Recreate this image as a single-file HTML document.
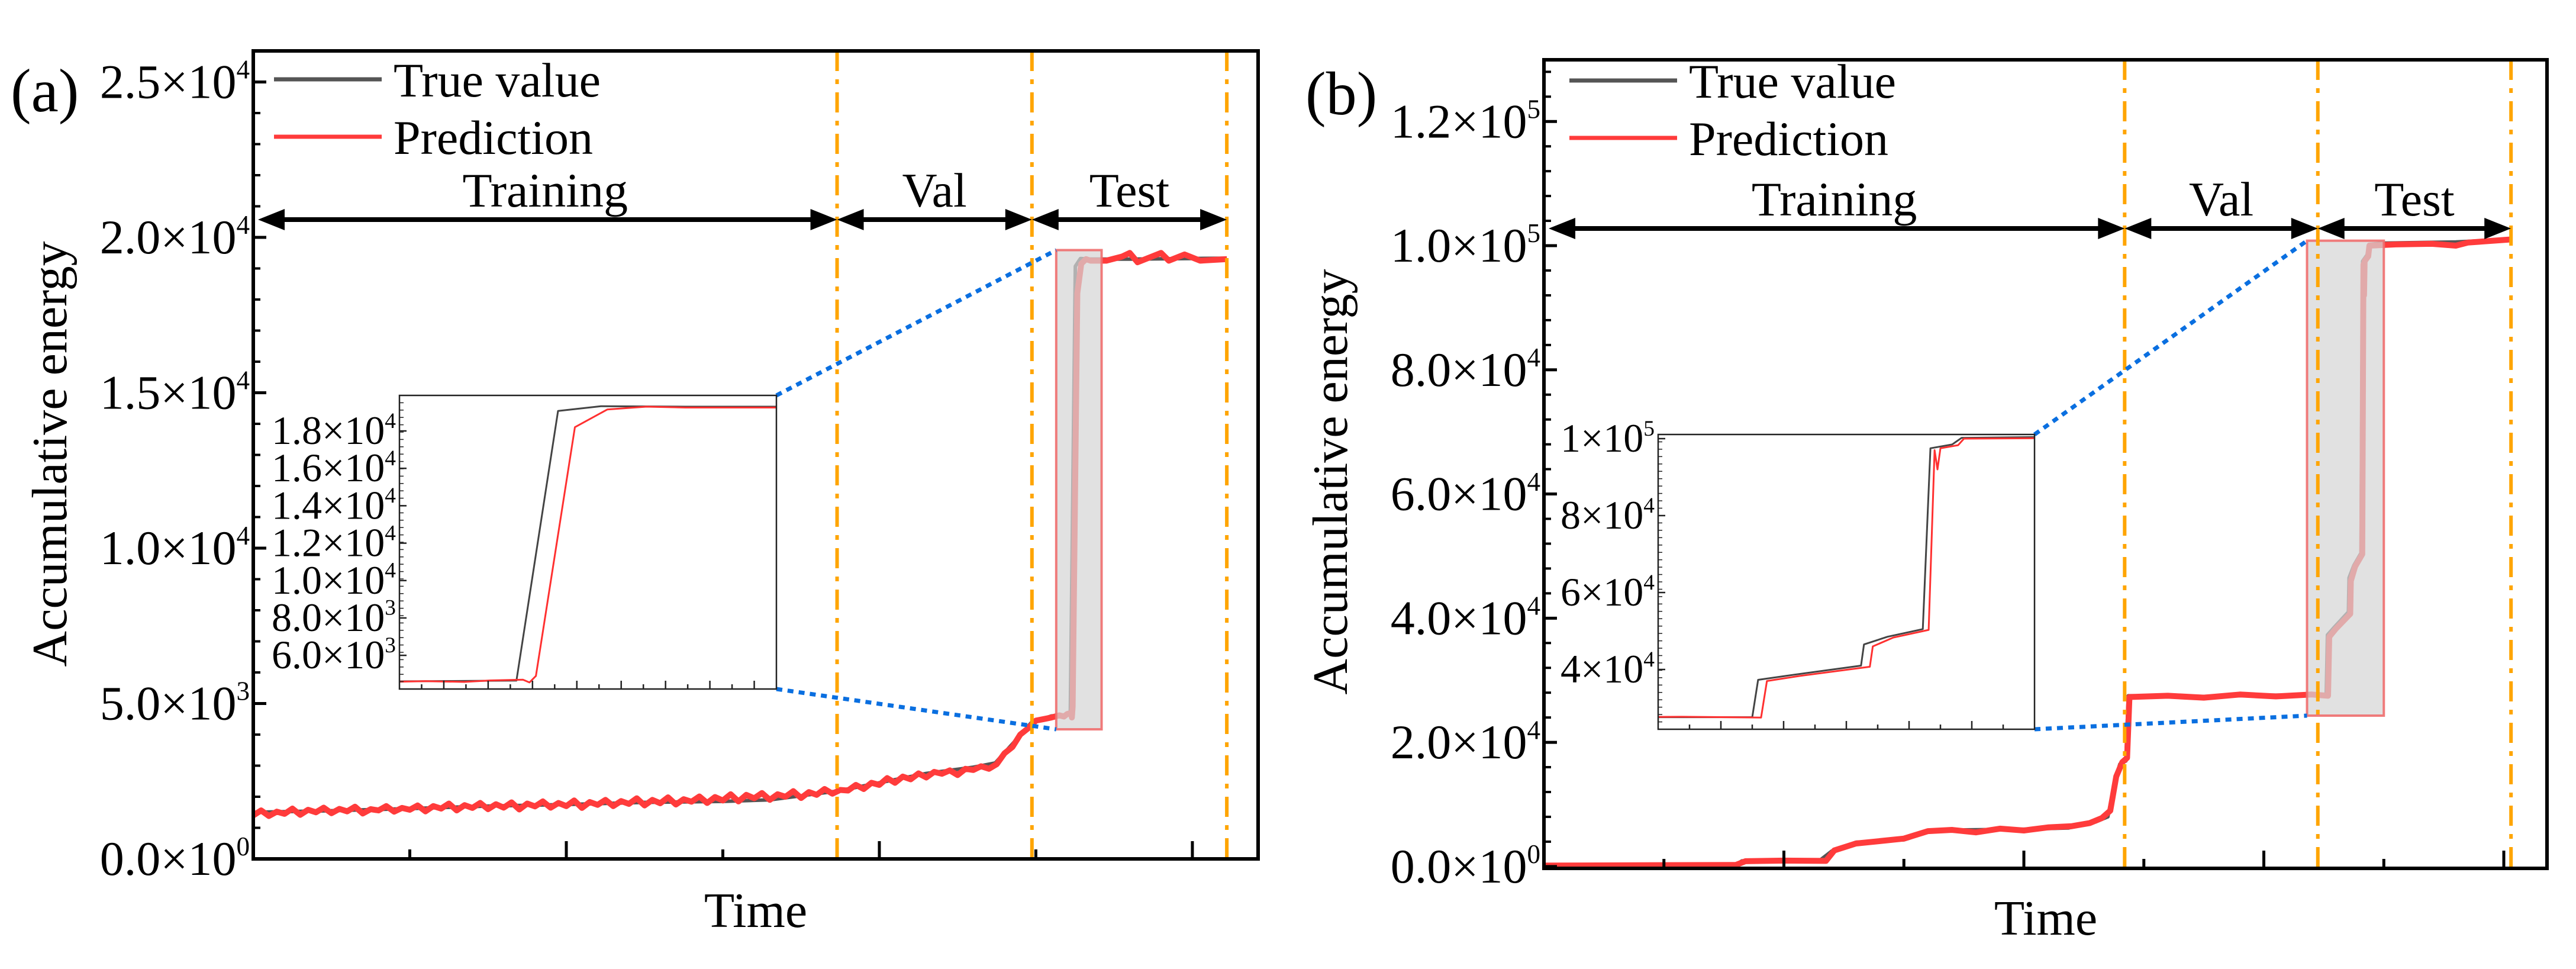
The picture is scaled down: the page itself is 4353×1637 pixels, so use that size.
<!DOCTYPE html>
<html><head><meta charset="utf-8"><style>
html,body{margin:0;padding:0;background:#fff}
svg{display:block}
svg text{font-family:"Liberation Serif","Times New Roman","DejaVu Serif",serif;fill:#000}
</style></head><body>
<svg id="chart" width="4353" height="1637" viewBox="0 0 4353 1637" xmlns="http://www.w3.org/2000/svg" font-family="Liberation Serif, serif">
<defs>
<clipPath id="clipA"><rect x="428" y="86" width="1698" height="1365"/></clipPath>
<clipPath id="clipB"><rect x="2609" y="101" width="1695" height="1366"/></clipPath>
<clipPath id="clipIA"><rect x="675" y="668" width="637" height="496"/></clipPath>
<clipPath id="clipIB"><rect x="2802" y="734" width="636" height="498"/></clipPath>
</defs>
</svg>
<script>
// ---------- Panel (a) data ----------
const trueAX=[0,0.5,1,1.5,2,2.5,3,3.3,3.73,4.0,4.3,4.6,4.74,4.85,4.97,5.1,5.22,5.252,5.285,5.35,5.6,6.0,6.22];
const trueAY=[1500,1550,1620,1700,1750,1820,1850,1900,2180,2450,2750,2950,3085,3700,4380,4600,4650,19070,19320,19300,19300,19320,19330];
const predAX=[0,0.05,0.1,0.15,0.2,0.25,0.3,0.35,0.4,0.45,0.5,0.55,0.6,0.65,0.7,0.75,0.8,0.85,0.9,0.95,1.0,1.05,1.1,1.15,1.2,1.25,1.3,1.35,1.4,1.45,1.5,1.55,1.6,1.65,1.7,1.75,1.8,1.85,1.9,1.95,2.0,2.05,2.1,2.15,2.2,2.25,2.3,2.35,2.4,2.45,2.5,2.55,2.6,2.65,2.7,2.75,2.8,2.85,2.9,2.95,3.0,3.05,3.1,3.15,3.2,3.25,3.3,3.35,3.4,3.45,3.5,3.55,3.6,3.65,3.7,3.75,3.8,3.85,3.9,3.95,4.0,4.05,4.1,4.15,4.2,4.25,4.3,4.35,4.4,4.45,4.5,4.55,4.6,4.65,4.7,4.75,4.8,4.85,4.9,4.95,5.0,5.05,5.1,5.15,5.18,5.2,5.225,5.23,5.235,5.265,5.29,5.32,5.35,5.45,5.55,5.6,5.65,5.75,5.8,5.85,5.95,6.05,6.22];
const predAY=[1400,1560,1380,1520,1450,1620,1420,1580,1500,1650,1470,1610,1530,1680,1460,1600,1560,1700,1520,1640,1580,1720,1530,1700,1620,1780,1560,1730,1640,1800,1600,1760,1650,1820,1590,1780,1690,1850,1650,1800,1700,1880,1640,1830,1740,1900,1700,1860,1770,1950,1720,1900,1790,1980,1750,1920,1840,2010,1800,1990,1880,2080,1850,2060,1950,2120,1900,2080,2000,2180,1960,2150,2060,2250,2100,2220,2200,2380,2250,2450,2380,2600,2450,2650,2560,2750,2620,2800,2740,2850,2700,2900,2860,2980,2900,3050,3400,3600,4000,4200,4450,4500,4550,4620,4580,4660,4700,4550,4900,18200,19150,19300,19250,19250,19380,19500,19200,19400,19500,19250,19450,19250,19300];
const ticksAY=[0,5000,10000,15000,20000,25000];
const tickLabA=[["0.0","0"],["5.0","3"],["1.0","4"],["1.5","4"],["2.0","4"],["2.5","4"]];
const insetTicksAY=[6000,8000,10000,12000,14000,16000,18000];
const insetLabA=[["6.0","3"],["8.0","3"],["1.0","4"],["1.2","4"],["1.4","4"],["1.6","4"],["1.8","4"]];
const splitsA=[3.73,4.975,6.22];
// ---------- Panel (b) data ----------
const trueBX=[0,1.6,1.65,2.3,2.4,2.6,3.0,3.05,3.2,3.5,4.0,4.37,4.6,4.7,4.76,4.8,4.85,4.87,5.5,6.0,6.52,6.53,6.585,6.705,6.71,6.75,6.81,6.823,6.86,6.876,7.0,7.6,8.06];
const trueBY=[200,300,900,1000,2500,3900,4300,4600,5800,5900,6000,6200,7200,8000,14000,16500,17000,27500,27400,27600,27600,37300,38500,41000,46500,48500,50500,97500,98500,100200,100400,100600,101000];
const predBX=[0,1.6,1.68,2.0,2.35,2.42,2.6,2.8,3.0,3.2,3.4,3.6,3.8,4.0,4.2,4.4,4.55,4.65,4.72,4.77,4.82,4.86,4.88,5.2,5.5,5.8,6.1,6.4,6.535,6.545,6.6,6.72,6.725,6.76,6.82,6.83,6.835,6.84,6.87,6.88,7.1,7.4,7.6,7.7,8.06];
const predBY=[150,250,850,950,900,2600,3700,4100,4500,5700,5900,5500,6100,5800,6300,6500,7000,7800,9000,14500,16800,17500,27300,27500,27200,27700,27400,27700,27500,37000,38300,40700,46000,48300,50300,97000,92000,97500,98300,100000,100200,100300,100000,100500,101000];
const ticksBY=[0,20000,40000,60000,80000,100000,120000];
const tickLabB=[["0.0","0"],["2.0","4"],["4.0","4"],["6.0","4"],["8.0","4"],["1.0","5"],["1.2","5"]];
const insetTicksBY=[40000,60000,80000,100000];
const insetLabB=[["4","4"],["6","4"],["8","4"],["1","5"]];
const splitsB=[4.84,6.45,8.06];

const NS="http://www.w3.org/2000/svg";
const FONT='"Liberation Serif","Times New Roman",serif';
const svg=document.getElementById('chart');
function mk(tag,attrs,parent){const e=document.createElementNS(NS,tag);for(const k in attrs)e.setAttribute(k,attrs[k]);if(tag==='text'){e.setAttribute('font-family','Liberation Serif, serif');e.style.fontFamily=FONT;}(parent||svg).appendChild(e);return e;}
function lin(d0,d1,r0,r1){return v=>r0+(v-d0)/(d1-d0)*(r1-r0);}
function sciLabel(g,x,y,mant,exp,fs){
  const t=mk('text',{x:x,y:y,'font-size':fs,'text-anchor':'end'},g);
  
  
  const a=document.createElementNS(NS,'tspan');a.textContent=mant+'×10';t.appendChild(a);
  const b=document.createElementNS(NS,'tspan');b.setAttribute('font-size',fs*0.55);b.setAttribute('dy',-fs*0.4);b.textContent=exp;t.appendChild(b);
}
function poly(g,xs,ys,X,Y,stroke,w,clip,name){
  const pts=xs.map((v,i)=>X(v).toFixed(1)+','+Y(ys[i]).toFixed(1)).join(' ');
  const p=mk('polyline',{points:pts,fill:'none',stroke:stroke,'stroke-width':w,'stroke-linejoin':'round','clip-path':'url(#'+clip+')'},g);
  
  
}
function arrowSeg(g,x1,x2,y){
  mk('line',{x1:x1+40,y1:y,x2:x2-40,y2:y,stroke:'#000','stroke-width':8},g);
  mk('polygon',{points:`${x1},${y} ${x1+45},${y-18} ${x1+45},${y+18}`,fill:'#000'},g);
  mk('polygon',{points:`${x2},${y} ${x2-45},${y-18} ${x2-45},${y+18}`,fill:'#000'},g);
}

function panel(c){
  const g=mk('g',{});
  
  
  const X=lin(0,c.xmax,c.L,c.R), Y=lin(c.ymin,c.ymax,c.B,c.T);
  poly(g,c.tx,c.ty,X,Y,'#555',6,c.clip,'true-value-line');
  poly(g,c.px,c.py,X,Y,'#ff3b3b',10,c.clip,'prediction-line');
  const bx=mk('rect',{x:X(c.box[0]),y:Y(c.box[3]),width:X(c.box[1])-X(c.box[0]),height:Y(c.box[2])-Y(c.box[3]),fill:'rgba(214,214,214,0.72)',stroke:'rgba(240,110,110,0.9)','stroke-width':4},g);
  
  
  c.splits.forEach(s=>{const l=mk('line',{x1:X(s),x2:X(s),y1:c.T,y2:c.B,stroke:'#ffa500','stroke-width':6,'stroke-dasharray':'34,14,8,14'},g);
    });
  const ay=c.arrowY;
  arrowSeg(g,c.L+8,X(c.splits[0]),ay);arrowSeg(g,X(c.splits[0]),X(c.splits[1]),ay);arrowSeg(g,X(c.splits[1]),X(c.splits[2]),ay);
  const labs=[['Training',(c.L+X(c.splits[0]))/2,'training-label'],['Val',(X(c.splits[0])+X(c.splits[1]))/2,'val-label'],['Test',(X(c.splits[1])+X(c.splits[2]))/2,'test-label']];
  labs.forEach(l=>{const t=mk('text',{x:l[1],y:ay-22,'font-size':82,'text-anchor':'middle'},g);t.textContent=l[0];
    });
  const I=c.inset;
  mk('line',{x1:I.R,y1:I.T,x2:X(c.box[0]),y2:Y(c.box[3]),stroke:'#0a6fe0','stroke-width':7,'stroke-dasharray':'10,9'},g);
  mk('line',{x1:I.R,y1:I.B,x2:X(c.box[0]),y2:Y(c.box[2]),stroke:'#0a6fe0','stroke-width':7,'stroke-dasharray':'10,9'},g);
  const ig=mk('g',{},g);
  
  
  mk('rect',{x:I.L,y:I.T,width:I.R-I.L,height:I.B-I.T,fill:'#fff'},ig);
  const IX=lin(c.box[0],c.box[1],I.L,I.R), IY=lin(I.ymin,I.ymax,I.B,I.T);
  poly(ig,c.tx,c.ty,IX,IY,'#444',3,I.clip,'inset-true-line');
  poly(ig,c.px,c.py,IX,IY,'#ff3030',3,I.clip,'inset-prediction-line');
  mk('rect',{x:I.L,y:I.T,width:I.R-I.L,height:I.B-I.T,fill:'none',stroke:'#222','stroke-width':2.5},ig);
  I.ticks.forEach((v,i)=>{mk('line',{x1:I.L,x2:I.L+12,y1:IY(v),y2:IY(v),stroke:'#222','stroke-width':2.5},ig);
    sciLabel(ig,I.L-6,IY(v)+22,I.labs[i][0],I.labs[i][1],68);});
  for(let k=1;k<I.nxt;k++){const xx=I.L+k*(I.R-I.L)/I.nxt;mk('line',{x1:xx,x2:xx,y1:I.B,y2:I.B-(k%2?8:14),stroke:'#222','stroke-width':2.5},ig);}
  for(let k=0;k<40;k++){const yy=I.B-k*(I.B-I.T)/40;mk('line',{x1:I.L,x2:I.L+7,y1:yy,y2:yy,stroke:'#222','stroke-width':1.5},ig);}
  const fr=mk('rect',{x:c.L,y:c.T,width:c.R-c.L,height:c.B-c.T,fill:'none',stroke:'#000','stroke-width':6},g);
  
  c.ticks.forEach((v,i)=>{mk('line',{x1:c.L,x2:c.L+22,y1:Y(v),y2:Y(v),stroke:'#000','stroke-width':5},g);
    sciLabel(g,c.L-6,Y(v)+27,c.tlab[i][0],c.tlab[i][1],82);});
  for(let v=c.ymin<0?0:c.ymin;v<=c.ymax;v+=c.minor){mk('line',{x1:c.L,x2:c.L+12,y1:Y(v),y2:Y(v),stroke:'#000','stroke-width':4},g);}
  for(let k=1;k<=Math.floor(c.xmax);k++){mk('line',{x1:X(k),x2:X(k),y1:c.B,y2:c.B-(k%2?16:30),stroke:'#000','stroke-width':5},g);}
  const yt=mk('text',{x:c.ytX,y:c.ytY,'font-size':84,'text-anchor':'middle',transform:`rotate(-90 ${c.ytX} ${c.ytY})`},g);
  yt.textContent='Accumulative energy';
  const xt=mk('text',{x:c.xtX,y:c.xtY,'font-size':84,'text-anchor':'middle'},g);
  xt.textContent='Time';
  const pl=mk('text',{x:c.plX,y:c.plY,'font-size':104},g);
  pl.textContent=c.letter;
  const lg=mk('g',{},g);
  mk('line',{x1:c.lgX,x2:c.lgX+182,y1:c.lgY,y2:c.lgY,stroke:'#555','stroke-width':7},lg);
  mk('line',{x1:c.lgX,x2:c.lgX+182,y1:c.lgY+97,y2:c.lgY+97,stroke:'#ff3b3b','stroke-width':7},lg);
  const t1=mk('text',{x:c.lgX+202,y:c.lgY+29,'font-size':82},lg);t1.textContent='True value';
  
  const t2=mk('text',{x:c.lgX+202,y:c.lgY+126,'font-size':82},lg);t2.textContent='Prediction';
  
}

panel({name:'panel-a',letter:'(a)',L:428,R:2126,T:86,B:1451,xmax:6.42,ymin:0,ymax:26000,
  tx:trueAX,ty:trueAY,px:predAX,py:predAY,clip:'clipA',box:[5.13,5.42,4170,19590],splits:splitsA,arrowY:371,
  ticks:ticksAY,tlab:tickLabA,minor:1000,
  inset:{L:675,R:1312,T:668,B:1164,ymin:4200,ymax:19900,ticks:insetTicksAY,labs:insetLabA,clip:'clipIA',nxt:17},
  ytX:112,ytY:767,xtX:1277,xtY:1566,plX:18,plY:188,lgX:463,lgY:134});
panel({name:'panel-b',letter:'(b)',L:2609,R:4304,T:101,B:1467,xmax:8.36,ymin:-300,ymax:129940,
  tx:trueBX,ty:trueBY,px:predBX,py:predBY,clip:'clipB',box:[6.36,7.0,24300,100800],splits:splitsB,arrowY:386,
  ticks:ticksBY,tlab:tickLabB,minor:4000,
  inset:{L:2802,R:3438,T:734,B:1232,ymin:24460,ymax:101080,ticks:insetTicksBY,labs:insetLabB,clip:'clipIB',nxt:12},
  ytX:2276,ytY:814,xtX:3457,xtY:1579,plX:2206,plY:193,lgX:2652,lgY:136});
</script>
</body></html>
